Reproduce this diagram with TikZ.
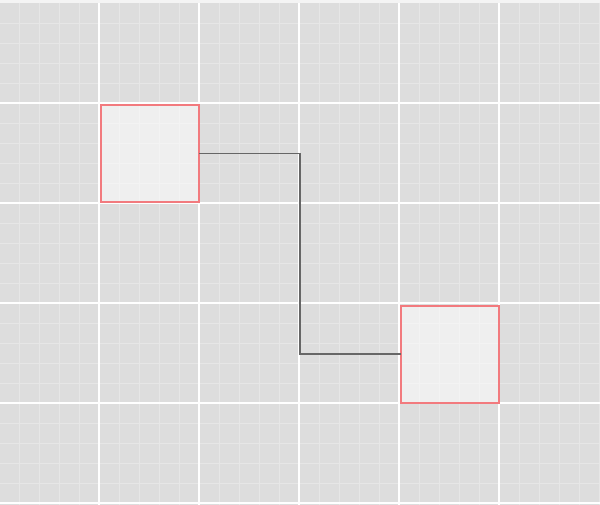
\documentclass[tikz,border=0pt]{standalone}
\definecolor{bg}{HTML}{DDDDDD}
\definecolor{minor}{HTML}{E6E6E6}
\definecolor{topstrip}{HTML}{F4F4F4}
\definecolor{boxline}{HTML}{F27A7E}
\definecolor{conn}{HTML}{666666}
\tikzset{
  minorline/.style={draw=minor, line width=0.8pt},
  majorline/.style={draw=white, line width=1.8pt},
  boxnode/.style={rectangle, minimum width=98pt, minimum height=97pt, inner sep=0pt, outer sep=0pt},
  boxborder/.style={draw=boxline, line width=2pt},
  connector/.style={draw=conn, line width=1.2pt}
}
\begin{document}
\begin{tikzpicture}[x=1pt,y=-1pt]
\useasboundingbox (0,0) rectangle (600,505);
\fill[topstrip] (0,0) rectangle (600,3);
\fill[bg] (0,3) rectangle (600,505);
\foreach \x in {19,39,...,599} \draw[minorline] (\x,3) -- (\x,505);
\foreach \y in {23,43,...,503} \draw[minorline] (0,\y) -- (600,\y);
\foreach \x in {99,199,299,399,499} \draw[majorline] (\x,3) -- (\x,505);
\foreach \y in {103,203,303,403,503} \draw[majorline] (0,\y) -- (600,\y);
\node[boxnode] (a) at (150,153.5) {};
\node[boxnode] (b) at (450,354) {};
\fill[white, fill opacity=0.55] (a.north west) rectangle (a.south east);
\fill[white, fill opacity=0.55] (b.north west) rectangle (b.south east);
\draw[boxborder] (a.north west) rectangle (a.south east);
\draw[boxborder] (b.north west) rectangle (b.south east);
\coordinate (m) at (300,0);
\draw[connector] (a.east) -- (a.east -| m) -- (b.west -| m) -- (b.west);
\end{tikzpicture}
\end{document}
